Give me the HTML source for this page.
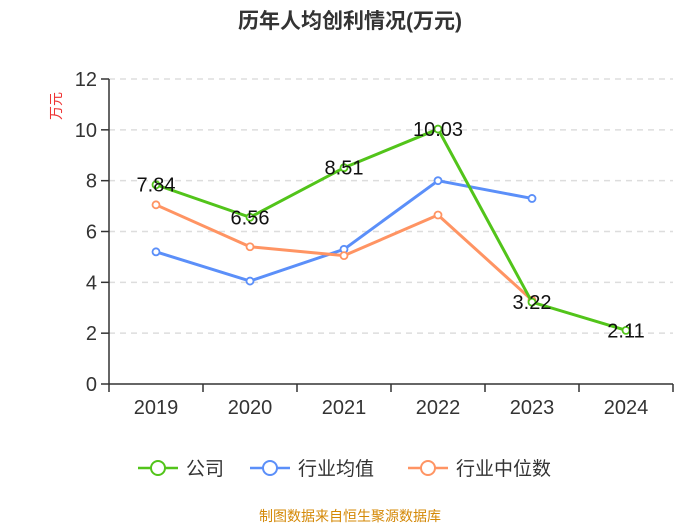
<!DOCTYPE html>
<html><head><meta charset="utf-8"><style>
body{margin:0;background:#fff}
svg{font-family:"Liberation Sans","Noto Sans CJK SC",sans-serif}
</style></head><body>
<svg width="700" height="525" xmlns="http://www.w3.org/2000/svg">
<text x="350" y="28" text-anchor="middle" font-size="21" font-weight="bold" fill="#333">历年人均创利情况(万元)</text>
<text transform="translate(61,106) rotate(-90)" text-anchor="middle" font-size="14" fill="#e33">万元</text>
<g id="grid"></g><g id="axes"></g><g id="series"></g>
<g>
 <g><line x1="138" y1="468" x2="178" y2="468" stroke="#52c41a" stroke-width="2.5"/><circle cx="158" cy="468" r="7" fill="#fff" stroke="#52c41a" stroke-width="2"/><text x="186" y="475" font-size="19" fill="#333">公司</text></g>
 <g><line x1="250" y1="468" x2="290" y2="468" stroke="#5b8ff9" stroke-width="2.5"/><circle cx="270" cy="468" r="7" fill="#fff" stroke="#5b8ff9" stroke-width="2"/><text x="298" y="475" font-size="19" fill="#333">行业均值</text></g>
 <g><line x1="408" y1="468" x2="448" y2="468" stroke="#ff9463" stroke-width="2.5"/><circle cx="428" cy="468" r="7" fill="#fff" stroke="#ff9463" stroke-width="2"/><text x="456" y="475" font-size="19" fill="#333">行业中位数</text></g>
</g>
<text x="350" y="521" text-anchor="middle" font-size="14" fill="#d48806">制图数据来自恒生聚源数据库</text>
</svg>
<script>
const categories=["2019","2020","2021","2022","2023","2024"];
const company=[7.84,6.56,8.51,10.03,3.22,2.11];
const industryAvg=[5.2,4.05,5.3,8.0,7.3,null];
const industryMedian=[7.05,5.4,5.05,6.65,3.3,null];
const yTicks=[0,2,4,6,8,10,12];
const NS="http://www.w3.org/2000/svg";
const L=109,R=673,T=79,B=384,yMax=12;
const bw=(R-L)/categories.length;
const xs=i=>L+bw*(i+0.5);
const ys=v=>B-(v/yMax)*(B-T);
function mk(t,a,p){const e=document.createElementNS(NS,t);for(const k in a)e.setAttribute(k,a[k]);p.appendChild(e);return e;}
const grid=document.getElementById('grid'),axes=document.getElementById('axes'),ser=document.getElementById('series');
yTicks.forEach(v=>{
 if(v>0){const g=mk('line',{x1:L,x2:R,y1:ys(v),y2:ys(v),stroke:'#ddd','stroke-dasharray':'6,5','stroke-width':1.5},grid);
 
 }
 const tk=mk('line',{x1:L-8,x2:L,y1:ys(v),y2:ys(v),stroke:'#333','stroke-width':1.5},axes);
 
 
 const t=mk('text',{x:L-12,y:ys(v)+7,'text-anchor':'end','font-size':20,fill:'#333'},axes);t.textContent=v;
 
 
});
const ya=mk('line',{x1:L,x2:L,y1:T,y2:B,stroke:'#333','stroke-width':1.5},axes);


const xa=mk('line',{x1:L,x2:R,y1:B,y2:B,stroke:'#333','stroke-width':1.5},axes);


for(let i=0;i<=categories.length;i++){const t=mk('line',{x1:L+bw*i,x2:L+bw*i,y1:B,y2:B+8,stroke:'#333','stroke-width':1.5},axes);
 
 }
categories.forEach((c,i)=>{const t=mk('text',{x:xs(i),y:B+30,'text-anchor':'middle','font-size':20,fill:'#333'},axes);t.textContent=c;
 
 });
function series(data,color,name,labels){
 const g=mk('g',{},ser);
 
 
 const pts=[];data.forEach((v,i)=>{if(v!=null)pts.push([xs(i),ys(v),v]);});
 const p=mk('polyline',{points:pts.map(p=>p[0]+','+p[1]).join(' '),fill:'none',stroke:color,'stroke-width':3},g);
 
 
 pts.forEach(q=>{const c=mk('circle',{cx:q[0],cy:q[1],r:3.5,fill:'#fff',stroke:color,'stroke-width':1.8},g);
  
  
  if(labels){const t=mk('text',{x:q[0],y:q[1]+7,'text-anchor':'middle','font-size':20,fill:'#111'},g);t.textContent=q[2].toFixed(2);
   
   }
 });
}
series(industryAvg,'#5b8ff9','industry-avg-series',false);
series(industryMedian,'#ff9463','industry-median-series',false);
series(company,'#52c41a','company-series',true);
</script>
</body></html>
